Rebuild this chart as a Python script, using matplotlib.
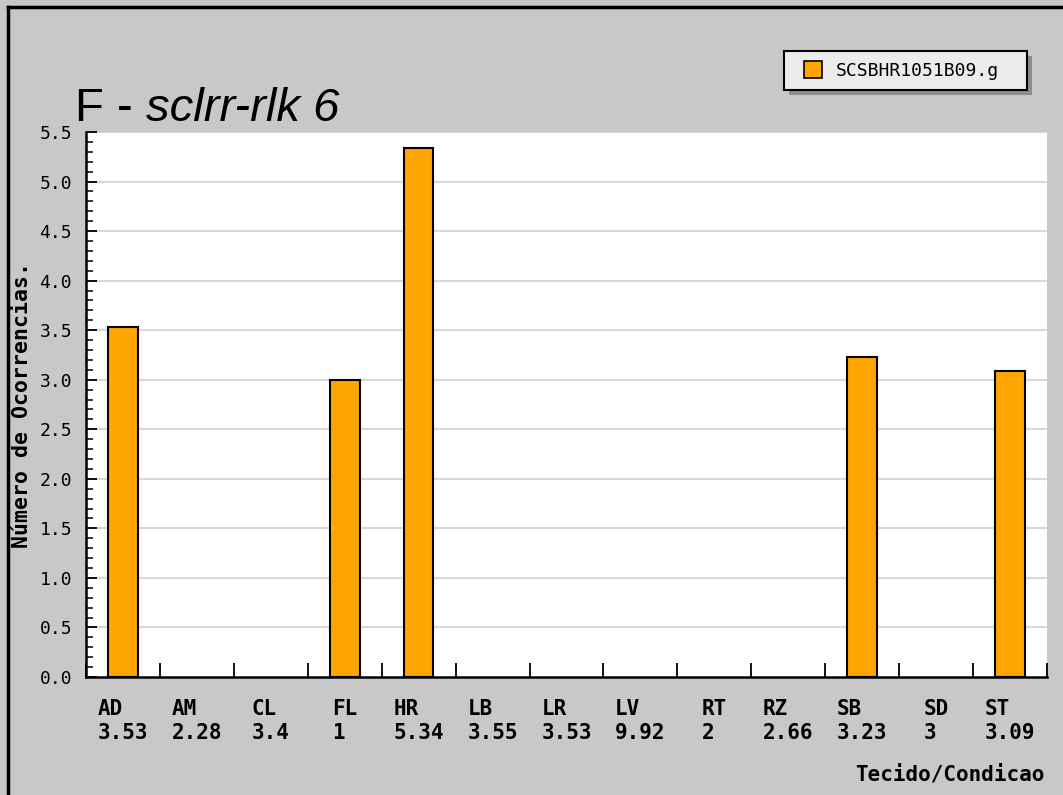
import matplotlib
matplotlib.use("Agg")
import matplotlib.pyplot as plt
from matplotlib.patches import Rectangle
from matplotlib.lines import Line2D

# ---- data ----
categories = ["AD", "AM", "CL", "FL", "HR", "LB", "LR", "LV", "RT", "RZ", "SB", "SD", "ST"]
tick_numbers = ["3.53", "2.28", "3.4", "1", "5.34", "3.55", "3.53", "9.92", "2", "2.66", "3.23", "3", "3.09"]
values = [3.53, 0, 0, 3.0, 5.34, 0, 0, 0, 0, 0, 3.23, 0, 3.09]
series_name = "SCSBHR1051B09.g"
yticks = [0.0, 0.5, 1.0, 1.5, 2.0, 2.5, 3.0, 3.5, 4.0, 4.5, 5.0, 5.5]

W, H = 1063, 795
BG = "#c8c8c8"
ORANGE = "#ffa500"
MONO = "DejaVu Sans Mono"

fig = plt.figure(figsize=(W / 100, H / 100), dpi=100, facecolor=BG)

def fx(x):
    return x / W

def fy(y):
    return 1 - y / H

ax = fig.add_axes([fx(86), fy(677), fx(1047) - fx(86), fy(132) - fy(677)])
ax.set_facecolor("white")

n = len(categories)
centers = [i + 0.5 for i in range(n)]
edges = ["black" if v > 0 else "none" for v in values]
ax.bar(centers, values, width=0.4, color=ORANGE, edgecolor=edges, linewidth=1.5, zorder=3)

ax.set_xlim(0, n)
ax.set_ylim(0, 5.5)

# grid
for y in yticks[1:]:
    ax.axhline(y, color="#d8d8d8", linewidth=1.5, zorder=1)

# spines
for s in ("top", "right"):
    ax.spines[s].set_visible(False)
for s in ("left", "bottom"):
    ax.spines[s].set_linewidth(1.8)
    ax.spines[s].set_color("black")
    ax.spines[s].set_zorder(4)

# y ticks
ax.set_yticks(yticks)
ax.set_yticklabels([f"{v:.1f}" for v in yticks], fontfamily=MONO, fontsize=13)
ax.set_yticks([i / 10 for i in range(56)], minor=True)
ax.tick_params(axis="y", which="major", direction="in", length=8, width=1.3, pad=10)
ax.tick_params(axis="y", which="minor", direction="in", length=5, width=1.1)

# x ticks: boundaries as minor, labels at centers
ax.set_xticks(list(range(n + 1)), minor=True)
ax.set_xticks(centers)
ax.set_xticklabels([f"{c}\n{t}" for c, t in zip(categories, tick_numbers)],
                   fontfamily=MONO, fontsize=15, fontweight="bold", linespacing=1.25)
for t in ax.get_xticklabels():
    t.set_multialignment("left")
ax.tick_params(axis="x", which="major", length=0, pad=16)
ax.tick_params(axis="x", which="minor", direction="in", length=10, width=1.3)

# axis labels
fig.text(fx(22), fy(405), "Número de Ocorrencias.", rotation=90, ha="center", va="center",
         fontfamily=MONO, fontsize=15.5, fontweight="bold")
fig.text(fx(1045), fy(775), "Tecido/Condicao", ha="right", va="center",
         fontfamily=MONO, fontsize=15, fontweight="bold")

# title: normal part + italic part on one baseline
title_y = fy(121)
t1 = fig.text(fx(75), title_y, "F - ", fontfamily="Liberation Sans", fontsize=34,
              ha="left", va="baseline")
renderer = fig.canvas.get_renderer()
bb = t1.get_window_extent(renderer=renderer)
fig.text(bb.x1 / (W), title_y, "sclrr-rlk 6", fontfamily="Liberation Sans", fontsize=34,
         fontstyle="italic", ha="left", va="baseline")

# legend box (manual)
lx0, ly0, lx1, ly1 = 784, 51, 1027, 90
fig.patches.append(Rectangle((fx(lx0 + 5), fy(ly1 + 5)), fx(lx1) - fx(lx0), fy(ly0) - fy(ly1),
                             transform=fig.transFigure, facecolor="#8c8c8c", edgecolor="none",
                             zorder=1))
fig.patches.append(Rectangle((fx(lx0), fy(ly1)), fx(lx1) - fx(lx0), fy(ly0) - fy(ly1),
                             transform=fig.transFigure, facecolor="#ececec", edgecolor="black",
                             linewidth=1.5, zorder=2))
fig.patches.append(Rectangle((fx(804), fy(78)), fx(822) - fx(804), fy(61) - fy(78),
                             transform=fig.transFigure, facecolor=ORANGE, edgecolor="black",
                             linewidth=1.2, zorder=3))
fig.text(fx(836), fy(70.5), series_name, ha="left", va="center", fontfamily=MONO,
         fontsize=13, zorder=4)

# outer border (left and top)
fig.lines.append(Line2D([fx(8), fx(8)], [fy(7), 0], transform=fig.transFigure,
                        color="black", linewidth=2.5))
fig.lines.append(Line2D([fx(8), 1], [fy(7), fy(7)], transform=fig.transFigure,
                        color="black", linewidth=2.5))

fig.savefig("out.png", dpi=100, facecolor=BG)
